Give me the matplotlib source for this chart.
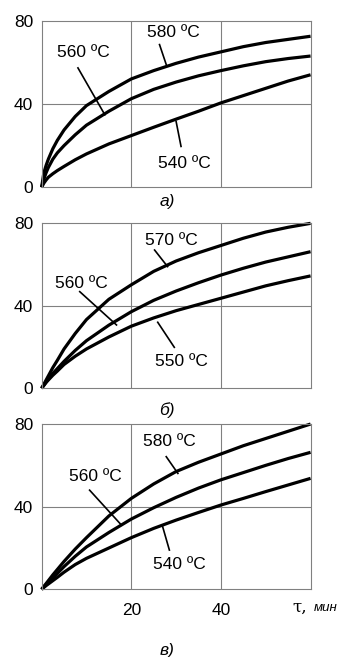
import matplotlib
matplotlib.use("Agg")
import matplotlib.pyplot as plt

plt.rcParams['font.family'] = ['Liberation Sans', 'DejaVu Sans']

# время, мин
t = [0, 0.5, 1, 1.5, 2.5, 3.5, 5, 7.5, 10, 15, 20, 25, 30, 35, 40, 45, 50, 55, 60]

# панель а)
a_580 = [0, 7, 10.5, 13.5, 18.5, 22.5, 27.5, 34, 39.2, 46, 52, 56, 59.5, 62.5, 65, 67.5, 69.5, 71, 72.5]
a_560 = [0, 4, 7, 9.5, 13.5, 16.5, 20, 25.2, 29.8, 36.5, 42.5, 47, 50.5, 53.5, 56, 58.3, 60.3, 61.8, 63]
a_540 = [0, 2, 3.5, 4.8, 6.5, 8, 10, 13.2, 16, 20.8, 24.8, 28.8, 32.7, 36.5, 40.5, 44, 47.5, 51, 54]

# панель б)
b_570 = [0, 2, 4, 6, 10, 13.5, 19, 26.5, 33.2, 43, 50, 56.5, 61.5, 65.5, 69, 72.5, 75.5, 77.8, 79.7]
b_560 = [0, 1.5, 3, 4.5, 7.2, 9.5, 13, 18.3, 23, 30.5, 37, 42.5, 47, 51, 54.7, 58, 61, 63.5, 66]
b_550 = [0, 1.4, 2.8, 4, 6.3, 8.3, 11.5, 15.5, 19, 24.8, 30, 34, 37.5, 40.5, 43.5, 46.5, 49.5, 52, 54.3]

# панель в)
v_580 = [0, 1.4, 2.8, 4.2, 7, 9.6, 13.5, 19.5, 25, 35.5, 44, 51, 57, 61.5, 65.5, 69.5, 73, 76.5, 80]
v_560 = [0, 1.2, 2.4, 3.5, 5.6, 7.7, 11, 16, 20.5, 27.5, 34, 39.5, 44.5, 49, 53, 56.5, 60, 63.3, 66.3]
v_540 = [0, 0.9, 1.8, 2.6, 4.2, 5.8, 8.3, 12, 15, 20, 25, 29.5, 33.5, 37.2, 40.8, 44, 47.3, 50.5, 53.7]

panels = [
    {
        'curves': [a_580, a_560, a_540],
        'labels': [('580 ºC', (29.3, 74.2), (26.3, 68.5), (27.8, 58.9)),
                   ('560 ºC', (9.3, 64.5), (8.1, 57.3), (14.1, 34.8)),
                   ('540 ºC', (31.9, 11.6), (31.1, 19.6), (30.0, 31.6))],
        'rect': [0.120, 0.715, 0.775, 0.2536],
        'name': 'а)', 'name_y': 201.7,
    },
    {
        'curves': [b_570, b_560, b_550],
        'labels': [('570 ºC', (28.9, 71.3), (25.2, 66.8), (28.1, 58.8)),
                   ('560 ºC', (8.9, 50.7), (8.5, 46.7), (16.7, 30.6)),
                   ('550 ºC', (31.1, 12.9), (29.6, 19.8), (25.9, 31.9))],
        'rect': [0.120, 0.409, 0.775, 0.252],
        'name': 'б)', 'name_y': 410,
    },
    {
        'curves': [v_580, v_560, v_540],
        'labels': [('580 ºC', (28.5, 71.5), (27.8, 64.2), (30.4, 56.1)),
                   ('560 ºC', (11.9, 54.5), (10.7, 48.0), (17.8, 31.1)),
                   ('540 ºC', (30.7, 11.8), (28.5, 19.0), (27.0, 30.3))],
        'rect': [0.120, 0.103, 0.775, 0.2516],
        'name': 'в)', 'name_y': 650,
    },
]

W, H = 347, 657
fig = plt.figure(figsize=(W / 100, H / 100), dpi=100)

for i, p in enumerate(panels):
    ax = fig.add_axes(p['rect'])
    ax.set_xlim(0, 60)
    ax.set_ylim(0, 80)
    for c in p['curves']:
        ax.plot(t, c, color='black', lw=2.3, solid_capstyle='butt', clip_on=False)
    for txt, pos, p1, p2 in p['labels']:
        ax.text(pos[0], pos[1], txt, ha='center', va='center', fontsize=12.5)
        ax.plot([p1[0], p2[0]], [p1[1], p2[1]], color='black', lw=1.2)
    for x in (20, 40):
        ax.axvline(x, color='#808080', lw=0.8, zorder=0)
    ax.axhline(40, color='#808080', lw=0.8, zorder=0)
    for s in ax.spines.values():
        s.set_color('#808080')
        s.set_linewidth(0.8)
    ax.set_yticks([0, 40, 80])
    ax.tick_params(length=0, labelsize=12.5, pad=6)
    if i == 2:
        ax.set_xticks([20, 40])
        ax.tick_params(axis='x', pad=10)
    else:
        ax.set_xticks([])
    fig.text(167 / W, 1 - p['name_y'] / H, p['name'], ha='center', va='center',
             fontsize=12.5, style='italic')

fig.text(292 / W, 1 - 607 / H, 'τ,', ha='left', va='center', fontsize=12,
         family=['DejaVu Serif'])
fig.text(314 / W, 1 - 608 / H, 'мин', ha='left', va='center', fontsize=9.5,
         style='italic')

fig.savefig('out.png', dpi=100)
